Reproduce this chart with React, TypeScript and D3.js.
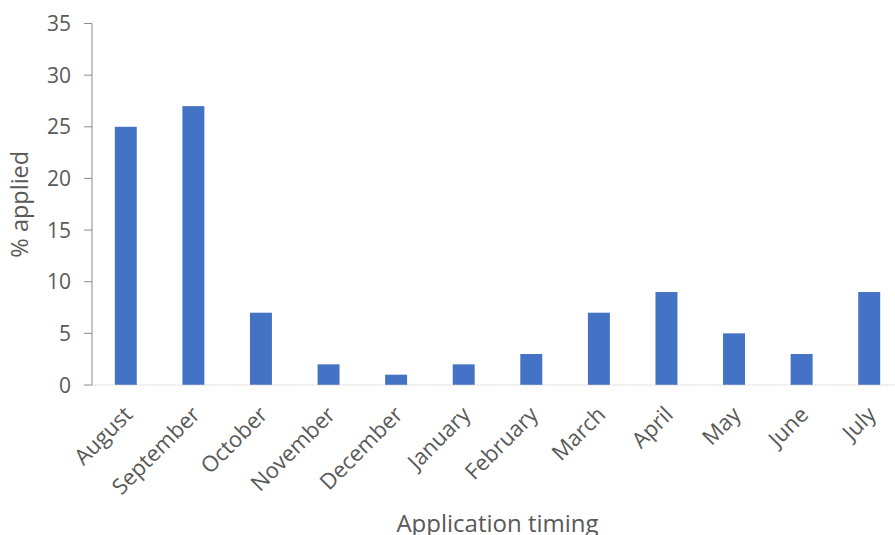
import React from "react";
import * as d3 from "d3";

const months = [
  "August", "September", "October", "November", "December", "January",
  "February", "March", "April", "May", "June", "July",
];
const applied = [25, 27, 7, 2, 1, 2, 3, 7, 9, 5, 3, 9];
const yTicks = [0, 5, 10, 15, 20, 25, 30, 35];

const W = 895;
const H = 535;
const left = 92;
const right = 903;
const top = 23.5;
const bottom = 385;

const FONT = "'Open Sans', 'Noto Sans', sans-serif";
const TEXT = "#595959";

export default function App() {
  const x = d3.scaleBand<string>().domain(months).range([left, right]).paddingInner(0.675).paddingOuter(0.3375);
  const y = d3.scaleLinear().domain([0, 35]).range([bottom, top]);

  return (
    <svg
      width={W}
      height={H}
      style={{ position: "fixed", left: 0, top: 0, background: "#fff" }}
      fontFamily={FONT}
    >
      {/* bars */}
      {months.map((m, i) => (
        <rect
          key={m}
          x={x(m)}
          y={y(applied[i])}
          width={x.bandwidth()}
          height={y(0) - y(applied[i])}
          fill="#4472C4"
        />
      ))}

      {/* category baseline */}
      <line x1={left} x2={W} y1={y(0)} y2={y(0)} stroke="#d0d0d0" strokeWidth={1} strokeDasharray="1.5 1" />

      {/* value axis */}
      <line x1={left} x2={left} y1={top} y2={bottom} stroke="#8c8c8c" strokeWidth={1} />
      {yTicks.map((t) => (
        <g key={t}>
          <line x1={left - 8} x2={left} y1={y(t)} y2={y(t)} stroke="#8c8c8c" strokeWidth={1} />
          <text x={71} y={y(t)} dy="0.36em" textAnchor="end" fontSize={21} fill={TEXT}>
            {t}
          </text>
        </g>
      ))}

      {/* month labels */}
      {months.map((m) => {
        const cx = (x(m) as number) + x.bandwidth() / 2;
        const ax = cx + 8;
        const ay = bottom + 31;
        return (
          <text
            key={m}
            x={ax}
            y={ay}
            textAnchor="end"
            fontSize={22}
            fill={TEXT}
            transform={`rotate(-45 ${ax} ${ay})`}
          >
            {m}
          </text>
        );
      })}

      {/* axis titles */}
      <text
        x={28}
        y={(top + bottom) / 2}
        textAnchor="middle"
        fontSize={23.5}
        fill={TEXT}
        transform={`rotate(-90 28 ${(top + bottom) / 2})`}
      >
        % applied
      </text>
      <text x={(left + right) / 2} y={532} textAnchor="middle" fontSize={24} fill={TEXT}>
        Application timing
      </text>
    </svg>
  );
}
